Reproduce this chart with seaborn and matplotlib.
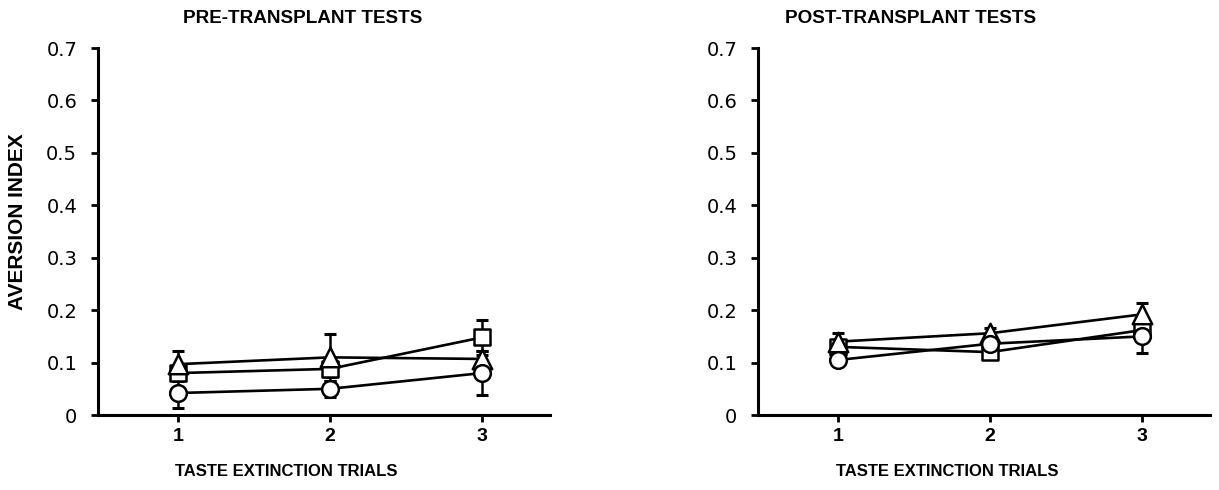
import numpy as np
import pandas as pd
import matplotlib
matplotlib.use("Agg")
import matplotlib.pyplot as plt
import seaborn as sns

trials = [1, 2, 3]
groups = ["square", "triangle", "circle"]

pre_triangle = [0.097, 0.110, 0.107]
pre_square = [0.080, 0.088, 0.148]
pre_circle = [0.042, 0.050, 0.080]
pre_triangle_err = [0.026, 0.045, 0.015]
pre_square_err = [0.015, 0.015, 0.033]
pre_circle_err = [0.029, 0.015, 0.042]

post_triangle = [0.140, 0.156, 0.192]
post_square = [0.130, 0.120, 0.162]
post_circle = [0.105, 0.136, 0.150]
post_triangle_err = [0.016, 0.010, 0.022]
post_square_err = [0.010, 0.010, 0.015]
post_circle_err = [0.010, 0.010, 0.032]

yticks = [0, 0.1, 0.2, 0.3, 0.4, 0.5, 0.6, 0.7]
ytick_labels = ["0", "0.1", "0.2", "0.3", "0.4", "0.5", "0.6", "0.7"]
titles = ["PRE-TRANSPLANT TESTS", "POST-TRANSPLANT TESTS"]
xlabel = "TASTE EXTINCTION TRIALS"
ylabel = "AVERSION INDEX"

sns.set_theme(style="ticks", rc={"text.color": "black", "xtick.color": "black",
                                 "ytick.color": "black", "axes.labelcolor": "black",
                                 "axes.edgecolor": "black"})
plt.rcParams['font.family'] = ['Liberation Sans', 'DejaVu Sans']

markers = {"triangle": "^", "square": "s", "circle": "o"}
msizes = {"triangle": 14, "square": 11, "circle": 12}

def make_df(tri, sq, ci, tri_e, sq_e, ci_e):
    rows = []
    data = {"triangle": (tri, tri_e), "square": (sq, sq_e), "circle": (ci, ci_e)}
    for g in groups:
        vals, errs = data[g]
        for t, v, e in zip(trials, vals, errs):
            rows.append({"trial": t, "value": v, "err": e, "group": g})
    return pd.DataFrame(rows)

dfs = [make_df(pre_triangle, pre_square, pre_circle, pre_triangle_err, pre_square_err, pre_circle_err),
       make_df(post_triangle, post_square, post_circle, post_triangle_err, post_square_err, post_circle_err)]

fig = plt.figure(figsize=(12.19, 4.90), dpi=100)
ax_l = fig.add_axes([0.0804, 0.153, 0.371, 0.749])
ax_r = fig.add_axes([0.622, 0.153, 0.371, 0.749])
axes = [ax_l, ax_r]

for ax, df in zip(axes, dfs):
    for g in groups:
        sub = df[df.group == g]
        ax.errorbar(sub.trial, sub.value, yerr=sub.err, fmt="none", ecolor="black",
                    elinewidth=1.8, capsize=4.5, capthick=2.2, zorder=2)
    sns.lineplot(data=df, x="trial", y="value", units="group", estimator=None,
                 color="black", linewidth=1.9, ax=ax, zorder=3, legend=False)
    for i, g in enumerate(groups):
        sub = df[df.group == g]
        sns.scatterplot(x=sub.trial, y=sub.value, marker=markers[g], s=msizes[g] ** 2,
                        facecolor="white", edgecolor="black", linewidth=1.8, ax=ax,
                        zorder=4 + i, legend=False)
    ax.set_xlim(0.475, 3.45)
    ax.set_ylim(0, 0.7)
    ax.set_xticks(trials)
    ax.set_xticklabels([str(t) for t in trials], fontsize=14, fontweight="bold", color="black")
    ax.set_yticks(yticks)
    ax.set_yticklabels(ytick_labels, fontsize=14, family=["DejaVu Sans"], color="black")
    ax.tick_params(axis="y", length=5, width=2, pad=10, color="black")
    ax.tick_params(axis="x", length=5, width=2, pad=4, color="black")
    ax.set_xlabel("")
    ax.set_ylabel("")
    for s in ["top", "right"]:
        ax.spines[s].set_visible(False)
    for s in ["left", "bottom"]:
        ax.spines[s].set_linewidth(2.2)
        ax.spines[s].set_color("black")

fig.text(0.248, 0.962, titles[0], fontsize=13.6, fontweight="bold", ha="center", va="center", color="black")
fig.text(0.747, 0.962, titles[1], fontsize=13.6, fontweight="bold", ha="center", va="center", color="black")
fig.text(0.235, 0.037, xlabel, fontsize=12, fontweight="bold", ha="center", va="center", color="black")
fig.text(0.777, 0.037, xlabel, fontsize=12, fontweight="bold", ha="center", va="center", color="black")
fig.text(0.014, 0.547, ylabel, fontsize=15, fontweight="bold", rotation=90, ha="center", va="center", color="black")

fig.savefig("out.png", dpi=100)
